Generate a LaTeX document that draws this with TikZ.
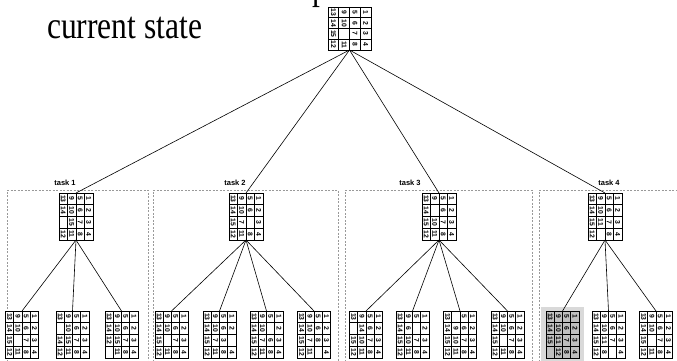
\documentclass[tikz,border=0pt]{standalone}
\usepackage{fontspec}
\setmainfont{Liberation Serif}
\newfontfamily\titlefont{Liberation Serif}[FakeStretch=0.83]
\newfontfamily\numfont{Liberation Sans}
\usetikzlibrary{calc}

\tikzset{
  gridbox/.style={draw, line width=0.9pt, inner sep=0pt, outer sep=0pt},
  cellline/.style={line width=0.6pt},
  numtext/.style={font=\numfont\bfseries\fontsize{6.8}{6.8}\selectfont, rotate=-90, inner sep=0pt},
  edgeline/.style={line width=0.6pt},
  taskbox/.style={draw=gray!80, dash pattern=on 2pt off 1.5pt, line width=0.5pt},
  tasklabel/.style={font=\numfont\bfseries\fontsize{7.5}{7.5}\selectfont, inner sep=0pt},
  titletext/.style={font=\titlefont\fontsize{38}{38}\selectfont, inner sep=0pt, anchor=base west},
}

% #1 name, #2 cx, #3 cy, #4 cell width, #5 cell height, #6 fill, #7 entries
\newcommand{\puzzle}[7]{%
  \node[gridbox, minimum width={4*#4pt}, minimum height={4*#5pt}, fill=#6] (#1) at (#2,#3) {};
  \foreach \k in {1,2,3} {
    \draw[cellline] ($(#1.north west)+(\k*#4,0)$) -- ($(#1.south west)+(\k*#4,0)$);
    \draw[cellline] ($(#1.north west)+(0,\k*#5)$) -- ($(#1.north east)+(0,\k*#5)$);
  }
  \draw[line width=0.9pt] (#1.north west) rectangle (#1.south east);
  \foreach \v [count=\i from 0] in {#7} {
    \pgfmathtruncatemacro\rr{div(\i,4)}
    \pgfmathtruncatemacro\cc{mod(\i,4)}
    \node[numtext] at ($(#1.north west)+(\cc*#4+0.5*#4,\rr*#5+0.5*#5)$) {\v};
  }
}

\begin{document}
\begin{tikzpicture}[x=1pt,y=-1pt]
\useasboundingbox (0,0) rectangle (677,361);

% title text
\node[titletext] (title1) at (41,-0.5) {Create tasks for each possible move from the};
\node[titletext] (title2) at (47,38) {current state};

% dashed task boxes
\draw[taskbox] (7,372) -- (7,190) -- (148,190) -- (148,372);
\draw[taskbox] (153,372) -- (153,190) -- (338,190) -- (338,372);
\draw[taskbox] (345,372) -- (345,190) -- (532,190) -- (532,372);
\draw[taskbox] (539,372) -- (539,190) -- (690,190);

% task labels
\node[tasklabel] (lab1) at (65,183) {task 1};
\node[tasklabel] (lab2) at (235,183) {task 2};
\node[tasklabel] (lab3) at (410,183) {task 3};
\node[tasklabel] (lab4) at (609,183) {task 4};

% root
\puzzle{root}{349.5}{28.5}{10.75}{10.75}{white}{13,9,5,1,14,10,6,2,15,{},7,3,12,11,8,4}

% task grids
\puzzle{t1}{76}{216.5}{8.5}{11.75}{white}{13,9,5,1,14,10,6,2,{},15,7,3,12,11,8,4}
\puzzle{t2}{246}{216.5}{8.5}{11.75}{white}{13,9,5,1,14,10,6,2,15,7,{},3,12,11,8,4}
\puzzle{t3}{439}{216.5}{8.5}{11.75}{white}{13,9,5,1,14,{},6,2,15,10,7,3,12,11,8,4}
\puzzle{t4}{605}{216.5}{8.5}{11.75}{white}{13,9,5,1,14,10,6,2,15,11,7,3,12,{},8,4}

% highlighted child background
\fill[gray!30] (541,307) rectangle (584,365);

% children task 1
\puzzle{c11}{22}{334.5}{8.25}{11.75}{white}{13,9,5,1,14,10,6,2,15,{},7,3,12,11,8,4}
\puzzle{c12}{72.5}{334.5}{8.25}{11.75}{white}{13,9,5,1,{},10,6,2,14,15,7,3,12,11,8,4}
\puzzle{c13}{121.5}{334.5}{8.25}{11.75}{white}{13,9,5,1,14,10,6,2,12,15,7,3,{},11,8,4}
% children task 2
\puzzle{c21}{171.5}{334.5}{8.25}{11.75}{white}{13,9,5,1,14,10,6,2,15,{},7,3,12,11,8,4}
\puzzle{c22}{219.5}{334.5}{8.25}{11.75}{white}{13,9,5,1,14,10,6,2,15,7,3,{},12,11,8,4}
\puzzle{c23}{266.5}{334.5}{8.25}{11.75}{white}{13,9,5,1,14,10,{},2,15,7,6,3,12,11,8,4}
\puzzle{c24}{314}{334.5}{8.25}{11.75}{white}{13,9,5,1,14,10,6,2,15,7,8,3,12,11,{},4}
% children task 3
\puzzle{c31}{366}{334.5}{8.25}{11.75}{white}{13,9,5,1,{},14,6,2,15,10,7,3,12,11,8,4}
\puzzle{c32}{412.5}{334.5}{8.25}{11.75}{white}{13,9,5,1,14,6,{},2,15,10,7,3,12,11,8,4}
\puzzle{c33}{460}{334.5}{8.25}{11.75}{white}{13,{},5,1,14,9,6,2,15,10,7,3,12,11,8,4}
\puzzle{c34}{507.5}{334.5}{8.25}{11.75}{white}{13,9,5,1,14,10,6,2,15,{},7,3,12,11,8,4}
% children task 4
\puzzle{c41}{562.5}{334.5}{8.25}{11.75}{gray!50}{13,9,5,1,14,10,6,2,15,11,7,3,{},12,8,4}
\puzzle{c42}{608.5}{334.5}{8.25}{11.75}{white}{13,9,5,1,14,10,6,2,15,11,7,3,12,8,{},4}
\puzzle{c43}{656}{334.5}{8.25}{11.75}{white}{13,9,5,1,14,10,6,2,15,{},7,3,12,11,8,4}

% connectors
\foreach \t in {t1,t2,t3,t4} \draw[edgeline] (root.south) -- (\t.north);
\foreach \c in {c11,c12,c13} \draw[edgeline] (t1.south) -- (\c.north);
\foreach \c in {c21,c22,c23,c24} \draw[edgeline] (t2.south) -- (\c.north);
\foreach \c in {c31,c32,c33,c34} \draw[edgeline] (t3.south) -- (\c.north);
\foreach \c in {c41,c42,c43} \draw[edgeline] (t4.south) -- (\c.north);
\end{tikzpicture}
\end{document}
